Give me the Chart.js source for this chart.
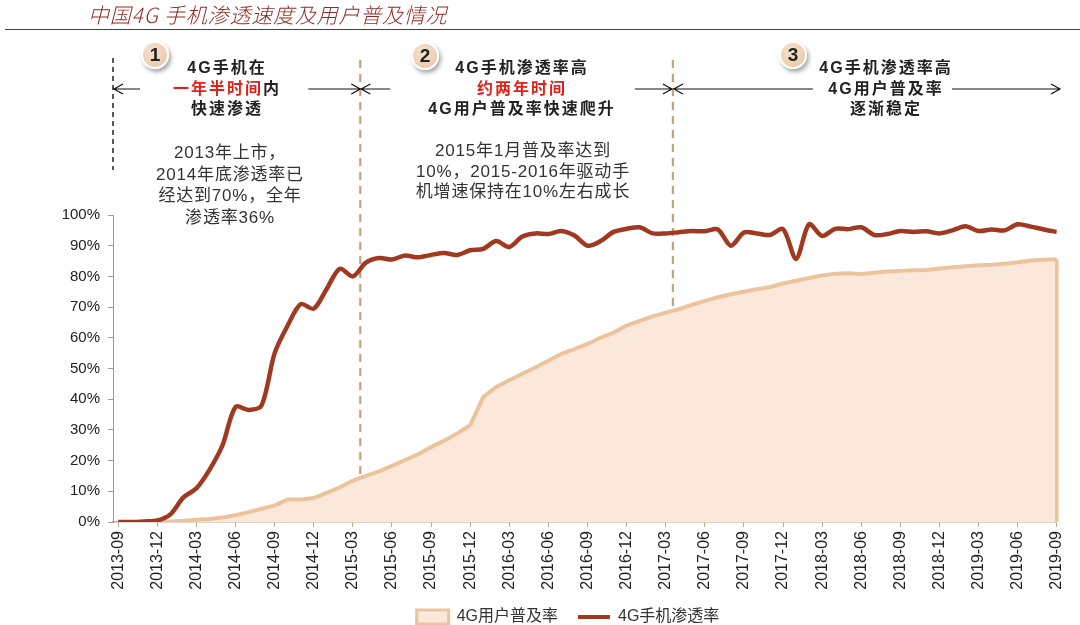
<!DOCTYPE html>
<html>
<head>
<meta charset="utf-8">
<script src="https://cdn.jsdelivr.net/npm/chart.js@4/dist/chart.umd.min.js"></script>
<style>
  html, body { margin: 0; padding: 0; background: #fff; }
  #wrap { position: relative; width: 1080px; height: 625px; overflow: hidden; }
  #c { position: absolute; left: 0; top: 0; }
  .txt { position: absolute; text-align: center; font-family: "Liberation Sans", Arial, "Noto Sans CJK SC", sans-serif; color: #222; z-index: 2; }
  .head { font-size: 16px; font-weight: bold; letter-spacing: 2px; line-height: 20.5px; width: 300px; }
  .note { font-size: 17px; letter-spacing: 0.8px; color: #333; width: 320px; }
  .red { color: #e0201b; }
  .title { position: absolute; left: 88px; top: 0; line-height: 28px; font-size: 21px; letter-spacing: 0.8px; font-style: italic; color: #8e2b24;
           font-family: "Noto Sans CJK SC", sans-serif; font-weight: 300; z-index: 2; }
  .rule { position: absolute; left: 5px; top: 29px; width: 1075px; border-top: 1.5px solid #8b2020; }
  .badge { position: absolute; width: 24px; height: 24px; border-radius: 50%; border: 2px solid #fff;
           background: radial-gradient(circle at 40% 35%, #f7e2cf, #e7c3a3); box-shadow: 2px 3px 4px rgba(0,0,0,0.35);
           font: bold 19px "Liberation Sans", Arial, sans-serif; color: #222; text-align: center; line-height: 24px; z-index: 2; }
</style>
</head>
<body>
<div id="wrap">
  <canvas id="c" width="1080" height="625"></canvas>
  <div class="title">中国4G 手机渗透速度及用户普及情况</div>
  <div class="rule"></div>

  <div class="badge" style="left:141px;top:41px;">1</div>
  <div class="badge" style="left:411px;top:42px;">2</div>
  <div class="badge" style="left:779px;top:41px;">3</div>

  <div class="txt head" style="left:77px;top:58px;">4G手机在<br><span class="red">一年半时间</span>内<br>快速渗透</div>
  <div class="txt head" style="left:372px;top:58px;">4G手机渗透率高<br><span class="red">约两年时间</span><br>4G用户普及率快速爬升</div>
  <div class="txt head" style="left:736px;top:58px;">4G手机渗透率高<br>4G用户普及率<br>逐渐稳定</div>

  <div class="txt note" style="left:70px;top:142px;line-height:21.7px;">2013年上市，<br>2014年底渗透率已<br>经达到70%，全年<br>渗透率36%</div>
  <div class="txt note" style="left:363px;top:141px;line-height:20.5px;">2015年1月普及率达到<br>10%，2015-2016年驱动手<br>机增速保持在10%左右成长</div>
</div>
<script>
// months 2013-09 .. 2019-09
var months = [
  "2013-09","2013-10","2013-11","2013-12",
  "2014-01","2014-02","2014-03","2014-04","2014-05","2014-06","2014-07","2014-08","2014-09","2014-10","2014-11","2014-12",
  "2015-01","2015-02","2015-03","2015-04","2015-05","2015-06","2015-07","2015-08","2015-09","2015-10","2015-11","2015-12",
  "2016-01","2016-02","2016-03","2016-04","2016-05","2016-06","2016-07","2016-08","2016-09","2016-10","2016-11","2016-12",
  "2017-01","2017-02","2017-03","2017-04","2017-05","2017-06","2017-07","2017-08","2017-09","2017-10","2017-11","2017-12",
  "2018-01","2018-02","2018-03","2018-04","2018-05","2018-06","2018-07","2018-08","2018-09","2018-10","2018-11","2018-12",
  "2019-01","2019-02","2019-03","2019-04","2019-05","2019-06","2019-07","2019-08","2019-09"
];

// 4G用户普及率 (%)
var userRate = [
  null, null, null, 0.1,
  0.2, 0.4, 0.7, 1.0, 1.5, 2.2, 3.2, 4.3, 5.4, 7.3, 7.3, 7.8,
  9.5, 11.3, 13.5, 15, 16.5, 18.3, 20.2, 22, 24.4, 26.5, 28.8, 31.5,
  40.7, 44, 46.2, 48.3, 50.3, 52.5, 54.8, 56.3, 58, 60, 61.7, 64,
  65.5, 67, 68.2, 69.3, 70.7, 72, 73.2, 74.2, 75, 75.8, 76.5, 77.7,
  78.6, 79.5, 80.3, 80.9, 81, 80.8, 81.2, 81.6, 81.8, 82, 82.1, 82.6,
  83, 83.3, 83.6, 83.8, 84.1, 84.6, 85.2, 85.4, 85.6
];

// 4G手机渗透率 (%)
var phoneRate = [
  0, 0, 0.2, 0.5,
  2.5, 8, 11, 17, 25, 37.5, 36.5, 38, 55, 64, 71, 69.5,
  76, 82.5, 80, 84.5, 86, 85.5, 86.8, 86.2, 87, 87.6, 87, 88.5,
  89, 91.5, 89.6, 93, 94, 93.8, 94.8, 93.3, 90, 91.5, 94.5, 95.5,
  96, 94, 94, 94.4, 94.8, 94.7, 95.3, 90, 94.3, 94, 93.5, 95.4,
  85.7, 97, 93.2, 95.5, 95.4, 96, 93.5, 93.8, 94.8, 94.5, 94.7, 94,
  95, 96.3, 94.8, 95.3, 95, 97, 96.2, 95.3, 94.5
];

var xTickIdx = [0,3,6,9,12,15,18,21,24,27,30,33,36,39,42,45,48,51,54,57,60,63,66,69,72];
var yTicks = [0,10,20,30,40,50,60,70,80,90,100];
var phaseBreaks = [18.57, 42.55];   // between 2015-03/04 and 2017-03/04

var FONT = '"Liberation Sans", Arial, "Noto Sans CJK SC", sans-serif';
var RED = '#a0391f', TAN = '#ebc49e', PEACH = '#fbe8db';

function toXY(arr) {
  return arr.map(function (v, i) { return { x: i, y: v }; });
}

function arrow(ctx, x1, x2, y) {
  // line from x1 to x2, open head at x2
  var d = x2 > x1 ? -1 : 1;
  ctx.beginPath();
  ctx.moveTo(x1, y); ctx.lineTo(x2, y);
  ctx.moveTo(x2 + d * 9, y - 5); ctx.lineTo(x2, y); ctx.lineTo(x2 + d * 9, y + 5);
  ctx.stroke();
}

var annot = {
  id: 'annot',
  afterLayout: function (chart) {
    // legend sits a bit right of centre in the original
    chart.legend.left += 35;
    chart.legend.right += 35;
  },
  beforeDatasetsDraw: function (chart) {
    var ctx = chart.ctx, xs = chart.scales.x, area = chart.chartArea;
    ctx.save();
    ctx.setLineDash([8, 6]);
    ctx.lineWidth = 2.2;
    ctx.strokeStyle = '#c6a27a';
    phaseBreaks.forEach(function (v) {
      var px = xs.getPixelForValue(v);
      ctx.beginPath(); ctx.moveTo(px, 60); ctx.lineTo(px, area.bottom); ctx.stroke();
    });
    ctx.setLineDash([5, 4]);
    ctx.lineWidth = 1.5;
    ctx.strokeStyle = '#222';
    ctx.beginPath(); ctx.moveTo(area.left, 58); ctx.lineTo(area.left, 170); ctx.stroke();
    ctx.restore();
  },
  afterDatasetDraw: function (chart, args) {
    if (args.index !== 0) return;
    // closing edge of the area at the last month
    var meta = chart.getDatasetMeta(0);
    var last = meta.data[meta.data.length - 1];
    var ctx = chart.ctx;
    ctx.save();
    ctx.strokeStyle = TAN; ctx.lineWidth = 3.5;
    ctx.beginPath(); ctx.moveTo(last.x, last.y); ctx.lineTo(last.x, chart.scales.y.getPixelForValue(0)); ctx.stroke();
    ctx.restore();
  },
  afterDraw: function (chart) {
    var ctx = chart.ctx, xs = chart.scales.x, area = chart.chartArea;
    var b1 = xs.getPixelForValue(phaseBreaks[0]), b2 = xs.getPixelForValue(phaseBreaks[1]);
    var y = 89;
    ctx.save();
    ctx.setLineDash([]);
    ctx.strokeStyle = '#111';
    ctx.lineWidth = 1.2;
    arrow(ctx, area.left + 27, area.left + 1, y);
    arrow(ctx, b1 - 52, b1, y);
    arrow(ctx, b1 + 30, b1 + 1, y);
    arrow(ctx, b2 - 38, b2 - 1, y);
    arrow(ctx, b2 + 140, b2 + 1, y);
    arrow(ctx, 952, 1060, y);
    ctx.restore();
  }
};

new Chart(document.getElementById('c'), {
  type: 'line',
  data: {
    datasets: [{
      label: '4G用户普及率',
      data: toXY(userRate),
      borderColor: TAN,
      backgroundColor: PEACH,
      borderWidth: 4,
      fill: 'origin',
      tension: 0,
      pointRadius: 0
    }, {
      label: '4G手机渗透率',
      data: toXY(phoneRate),
      borderColor: RED,
      backgroundColor: RED,
      borderWidth: 4.5,
      fill: false,
      tension: 0.3,
      pointRadius: 0,
      order: -1
    }]
  },
  options: {
    responsive: false,
    animation: false,
    devicePixelRatio: 1,
    layout: { padding: { top: 215, left: 0, right: 14, bottom: -10 } },
    plugins: {
      tooltip: { enabled: false },
      legend: {
        position: 'bottom',
        labels: {
          usePointStyle: true,
          pointStyleWidth: 32,
          boxHeight: 14,
          padding: 20,
          color: '#333',
          font: { size: 16, family: FONT },
          sort: function (a, b) { return a.datasetIndex - b.datasetIndex; },
          generateLabels: function (chart) {
            return chart.data.datasets.map(function (ds, i) {
              return {
                text: ds.label,
                fillStyle: ds.backgroundColor,
                strokeStyle: ds.borderColor,
                lineWidth: i === 0 ? 3 : 4,
                pointStyle: i === 0 ? 'rect' : 'line',
                fontColor: '#333',
                hidden: false,
                datasetIndex: i
              };
            });
          }
        }
      }
    },
    scales: {
      x: {
        type: 'linear',
        min: -0.4,
        max: 72,
        afterBuildTicks: function (s) { s.ticks = xTickIdx.map(function (v) { return { value: v }; }); },
        afterFit: function (s) { s.height = 67; },
        ticks: {
          autoSkip: false,
          minRotation: 90,
          maxRotation: 90,
          padding: 4,
          color: '#222',
          font: { size: 16, family: FONT },
          callback: function (v) { return months[v]; }
        },
        grid: { drawOnChartArea: false, tickLength: 5, color: '#b9a892' },
        border: { color: '#c0ab94', width: 1.5 }
      },
      y: {
        min: 0,
        max: 100,
        afterBuildTicks: function (s) { s.ticks = yTicks.map(function (v) { return { value: v }; }); },
        afterFit: function (s) { s.width = 113; },
        ticks: {
          padding: 8,
          color: '#222',
          font: { size: 15, family: FONT },
          callback: function (v) { return v + '%'; }
        },
        grid: { drawOnChartArea: false, tickLength: 5, color: '#999' },
        border: { color: '#999', width: 1 }
      }
    }
  },
  plugins: [annot]
});
</script>
</body>
</html>
